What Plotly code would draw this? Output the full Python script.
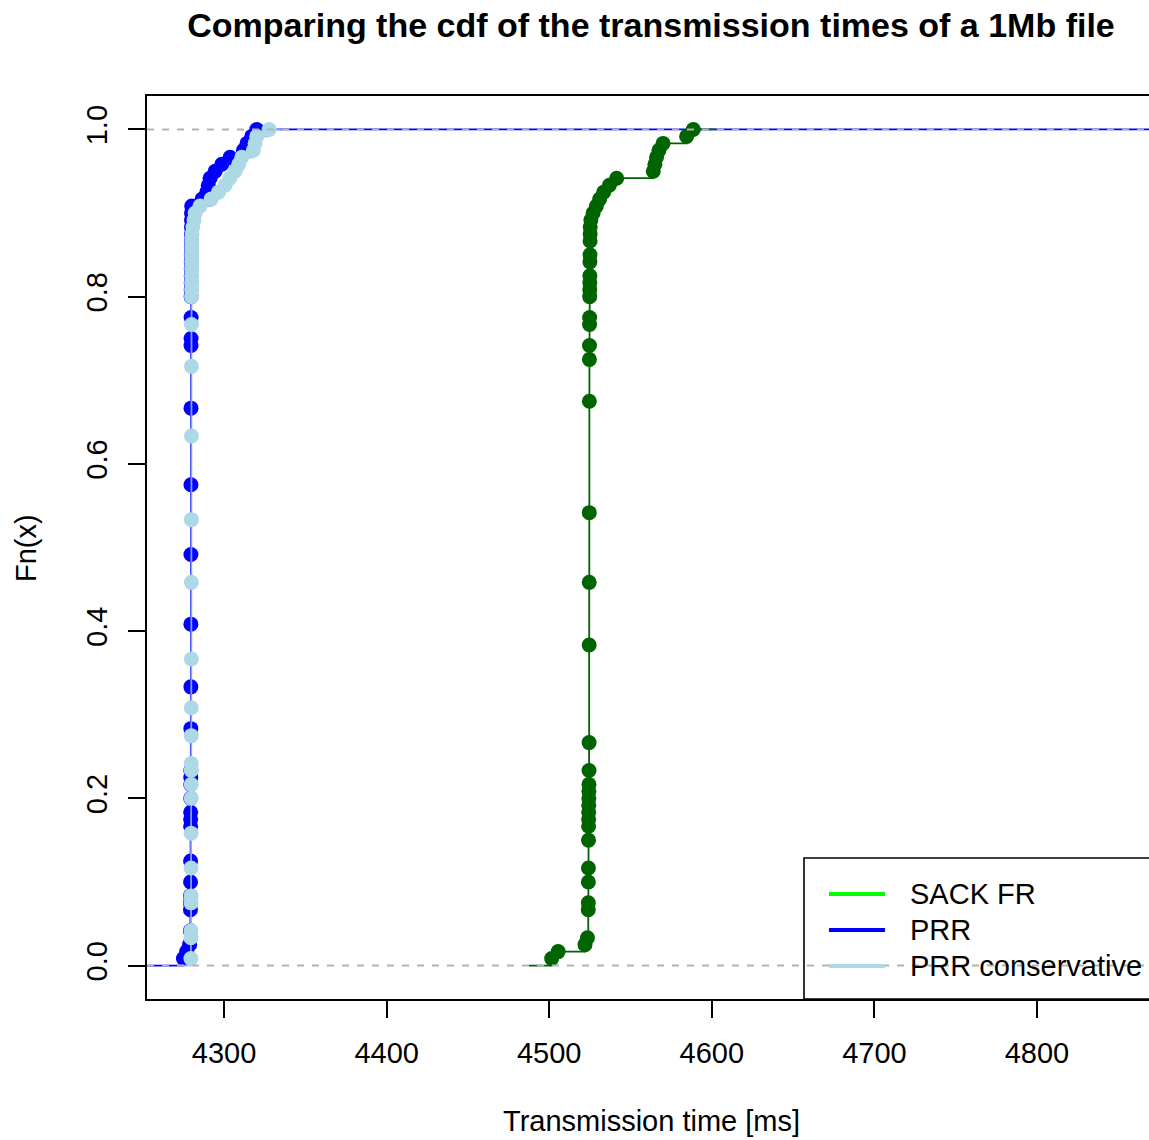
import numpy as np
import plotly.graph_objects as go

N_SAMPLES = 120

# ---- data: knot positions (ms) and cumulative counts (out of 120) ----
sack_x = [4501.5, 4505.5, 4522.0, 4523.5,
          4524.00, 4524.04, 4524.08, 4524.12, 4524.16, 4524.20, 4524.24, 4524.28,
          4524.32, 4524.36, 4524.40, 4524.44, 4524.48, 4524.52,
          4524.56, 4524.60, 4524.64, 4524.68,
          4524.72, 4524.76, 4524.80, 4524.84, 4524.88, 4524.92, 4524.96, 4525.00,
          4525.04, 4525.08, 4525.12, 4525.16, 4525.20,
          4525.6, 4527.0, 4529.0, 4531.0, 4533.5, 4537.0, 4541.5,
          4564.0, 4565.0, 4566.0, 4567.5, 4570.0, 4584.5, 4588.6]
sack_cum = [1, 2, 3, 4,
            8, 9, 12, 14, 18, 20, 21, 22, 23, 24, 25, 26, 28, 32,
            46, 55, 65, 81,
            87, 89, 92, 93, 96, 97, 98, 99, 101, 102, 104, 105, 106,
            107, 108, 109, 110, 111, 112, 113,
            114, 115, 116, 117, 118, 119, 120]

prr_x = [4275.0, 4277.0, 4278.8,
         4279.30, 4279.32, 4279.34, 4279.36, 4279.38, 4279.40, 4279.42, 4279.44,
         4279.46, 4279.48, 4279.50, 4279.52, 4279.54,
         4279.56, 4279.58, 4279.60, 4279.62, 4279.64, 4279.66,
         4279.68, 4279.70, 4279.72,
         4279.74, 4279.76, 4279.78, 4279.80, 4279.82, 4279.84, 4279.86, 4279.88,
         4279.90, 4279.92, 4279.94, 4279.96, 4279.98, 4280.10,
         4286.5, 4289.4, 4290.3, 4291.4, 4294.5, 4298.6, 4303.7, 4311.9, 4314.1,
         4317.0, 4320.1]
prr_cum = [1, 2, 3,
           5, 8, 9, 10, 12, 15, 20, 21, 22, 24, 26, 27, 28,
           34, 40, 49, 59, 69, 80,
           89, 90, 93,
           96, 97, 98, 99, 100, 101, 102, 103, 104, 105, 106, 107, 108, 109,
           110, 111, 112, 113, 114, 115, 116, 117, 118, 119, 120]

cons_x = [4279.60, 4279.62, 4279.64, 4279.66, 4279.68, 4279.70, 4279.72, 4279.74,
          4279.76, 4279.78, 4279.80, 4279.82, 4279.84, 4279.86,
          4279.88, 4279.90, 4279.92, 4279.94, 4279.96,
          4279.98, 4280.00, 4280.02, 4280.04, 4280.06, 4280.08, 4280.10, 4280.12,
          4280.14, 4280.30, 4280.8, 4281.5, 4282.2,
          4285.2, 4292.0, 4296.5, 4300.6, 4303.5, 4306.8, 4309.0, 4310.9, 4318.0,
          4319.1, 4320.1, 4327.7]
cons_cum = [1, 4, 5, 9, 10, 14, 19, 24, 26, 28, 29, 33, 37, 44,
            55, 64, 76, 86, 92,
            96, 97, 98, 99, 100, 101, 102, 103, 104, 105, 106, 107, 108,
            109, 110, 111, 112, 113, 114, 115, 116, 117, 118, 119, 120]

legend_labels = ["SACK FR", "PRR", "PRR conservative"]
legend_colors = ["#00FF00", "#0000FF", "#ADD8E6"]

x_ticks = [4300, 4400, 4500, 4600, 4700, 4800]
y_ticks = [0.0, 0.2, 0.4, 0.6, 0.8, 1.0]

X_RANGE = [4252.6, 4868.9]
Y_RANGE = [-0.04, 1.04]
FONT = "Liberation Sans, Arial, Helvetica, sans-serif"
AX_SIZE = 29


def r_extension(xs):
    """Extent of the horizontal end pieces like R's plot.stepfun(add=TRUE)."""
    xs = np.asarray(xs)
    rx = (xs.min(), xs.max())
    dr = max(0.08 * (rx[1] - rx[0]), float(np.median(np.diff(xs))))
    return rx[0] - 2 * dr, rx[1] + 2 * dr


def add_ecdf(fig, xs, cums, color, left, right, line_color=None):
    F = [c / N_SAMPLES for c in cums]
    fig.add_trace(go.Scatter(x=[left] + list(xs) + [right], y=[0.0] + F + [1.0],
                             mode="lines",
                             line=dict(color=line_color or color, width=1.8, shape="hv"),
                             showlegend=False, hoverinfo="skip"))
    fig.add_trace(go.Scatter(x=xs, y=F, mode="markers",
                             marker=dict(color=color, size=15, line=dict(width=0)),
                             showlegend=False))


fig = go.Figure()
# PRR was the first (main) plot, so its end pieces run across the whole panel
add_ecdf(fig, prr_x, prr_cum, "#0000FF", X_RANGE[0] - 100, X_RANGE[1] + 100)
gl, gr = r_extension(sack_x)
add_ecdf(fig, sack_x, sack_cum, "#006400", gl, gr)
cl, cr = r_extension(cons_x)
add_ecdf(fig, cons_x, cons_cum, "#ADD8E6", cl, cr, line_color="rgba(150,175,240,0.9)")

L, T, B = 147, 96, 141
W, H = 1149, 1140
PW, PH = W - L, H - T - B


def px_x(p):
    return (p - L) / PW


def px_y(p):
    return (H - B - p) / PH


shapes = []
for yv in (0.0, 1.0):
    shapes.append(dict(type="line", xref="paper", x0=0, x1=1, yref="y", y0=yv, y1=yv,
                       line=dict(color="#B3B3B3", width=2, dash="7px,8px"), layer="above"))

# legend (bottom-right, box running off the right edge like the original)
shapes.append(dict(type="rect", xref="paper", yref="paper", x0=px_x(804), x1=1.02,
                   y0=0, y1=px_y(858), line=dict(color="black", width=1.6),
                   fillcolor="rgba(0,0,0,0)", layer="above"))
annotations = []
for i, (lab, col) in enumerate(zip(legend_labels, legend_colors)):
    yy = px_y(894 + 36 * i)
    shapes.append(dict(type="line", xref="paper", yref="paper", x0=px_x(829), x1=px_x(885),
                       y0=yy, y1=yy, line=dict(color=col, width=4), layer="above"))
    annotations.append(dict(text=lab, xref="paper", yref="paper", x=px_x(908), y=yy,
                            xanchor="left", yanchor="middle", showarrow=False,
                            font=dict(family=FONT, size=AX_SIZE, color="black")))

annotations.append(dict(text="Transmission time [ms]", xref="paper", yref="paper",
                        x=px_x(651), y=px_y(1121), xanchor="center", yanchor="middle",
                        showarrow=False, font=dict(family=FONT, size=AX_SIZE, color="black")))
annotations.append(dict(text="Fn(x)", xref="paper", yref="paper", x=px_x(26), y=px_y(548),
                        xanchor="center", yanchor="middle", textangle=-90,
                        showarrow=False, font=dict(family=FONT, size=AX_SIZE, color="black")))

fig.update_layout(
    width=W, height=H,
    margin=dict(l=L, r=0, t=T, b=B, pad=0),
    paper_bgcolor="white", plot_bgcolor="white",
    title=dict(text="<b>Comparing the cdf of the transmission times of a 1Mb file</b>",
               x=651 / W, xref="container", xanchor="center",
               y=1 - 25 / H, yref="container", yanchor="middle",
               font=dict(family=FONT, size=34, color="black")),
    xaxis=dict(range=X_RANGE, tickvals=x_ticks, ticktext=[str(v) for v in x_ticks],
               ticks="outside", ticklen=17, tickwidth=1.8, tickcolor="black",
               showline=True, linewidth=1.8, linecolor="black", mirror=True,
               showgrid=False, zeroline=False, ticklabelstandoff=10,
               tickfont=dict(family=FONT, size=AX_SIZE, color="black")),
    yaxis=dict(range=Y_RANGE, tickvals=y_ticks, ticktext=[f"{v:.1f}" for v in y_ticks],
               tickangle=-90, ticks="outside", ticklen=17, tickwidth=1.8, tickcolor="black",
               showline=True, linewidth=1.8, linecolor="black", mirror=False,
               showgrid=False, zeroline=False, ticklabelstandoff=10,
               tickfont=dict(family=FONT, size=AX_SIZE, color="black")),
    shapes=shapes, annotations=annotations, showlegend=False,
)

fig.write_html("out.html")
